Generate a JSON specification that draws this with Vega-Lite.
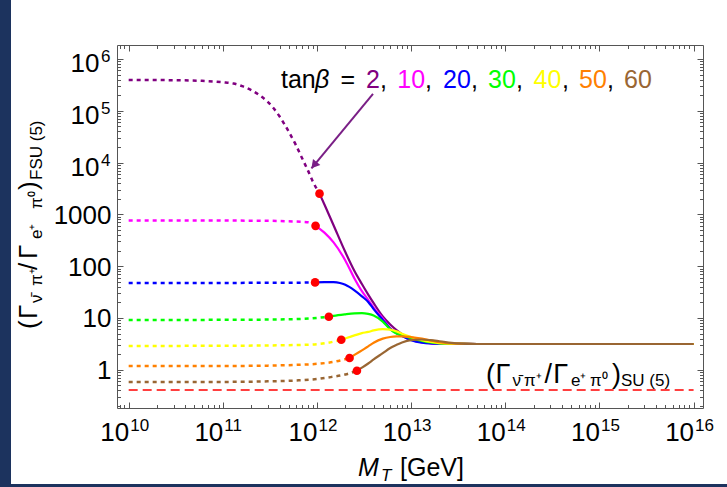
{
"$schema":"https://vega.github.io/schema/vega-lite/v6.json",
"width":586,"height":363,
"autosize":{"type":"none"},
"padding":{"left":117,"top":45,"right":24,"bottom":79},
"background":"white",
"config":{"view":{"stroke":"#555555","strokeWidth":1},"font":"Liberation Sans"},
"datasets":{
"decor":[{"M":4.298e8,"M2":5.625e8,"R":1.377e7,"R2":5.44e-3},{"M":4.298e8,"M2":2.265e16,"R":6.215e-3,"R2":5.44e-3}],
"su5":[{"M":1e10,"R":0.406},{"M":1e16,"R":0.406}],
"dotted":[
{"tb":"2","M":1e10,"R":3.94e5},{"tb":"2","M":3e10,"R":3.89e5},{"tb":"2","M":6e10,"R":3.78e5},{"tb":"2","M":1e11,"R":3.55e5},{"tb":"2","M":1.3e11,"R":3.35e5},{"tb":"2","M":1.6e11,"R":2.99e5},{"tb":"2","M":2e11,"R":2.51e5},{"tb":"2","M":2.5e11,"R":1.95e5},{"tb":"2","M":3e11,"R":1.49e5},{"tb":"2","M":4e11,"R":7.82e4},{"tb":"2","M":5e11,"R":3.98e4},{"tb":"2","M":6e11,"R":2.14e4},{"tb":"2","M":7e11,"R":1.18e4},{"tb":"2","M":8e11,"R":7.08e3},{"tb":"2","M":9e11,"R":4.37e3},{"tb":"2","M":1.064e12,"R":2512},
{"tb":"10","M":1e10,"R":760},{"tb":"10","M":1e11,"R":758},{"tb":"10","M":3e11,"R":752},{"tb":"10","M":5e11,"R":735},{"tb":"10","M":7e11,"R":716},{"tb":"10","M":8.5e11,"R":692},{"tb":"10","M":9.66e11,"R":600},
{"tb":"20","M":1e10,"R":47.5},{"tb":"20","M":1e11,"R":47.5},{"tb":"20","M":5e11,"R":47.8},{"tb":"20","M":9.55e11,"R":48.5},
{"tb":"30","M":1e10,"R":9.16},{"tb":"30","M":1e11,"R":9.18},{"tb":"30","M":3e11,"R":9.3},{"tb":"30","M":6e11,"R":9.5},{"tb":"30","M":1e12,"R":10.0},{"tb":"30","M":1.337e12,"R":10.54},
{"tb":"40","M":1e10,"R":2.88},{"tb":"40","M":1e11,"R":2.9},{"tb":"40","M":3e11,"R":2.94},{"tb":"40","M":6e11,"R":3.0},{"tb":"40","M":1e12,"R":3.12},{"tb":"40","M":1.26e12,"R":3.28},{"tb":"40","M":1.811e12,"R":3.793},
{"tb":"50","M":1e10,"R":1.175},{"tb":"50","M":1e11,"R":1.18},{"tb":"50","M":3e11,"R":1.2},{"tb":"50","M":6e11,"R":1.24},{"tb":"50","M":1e12,"R":1.3},{"tb":"50","M":1.4e12,"R":1.39},{"tb":"50","M":1.8e12,"R":1.52},{"tb":"50","M":2.218e12,"R":1.683},
{"tb":"60","M":1e10,"R":0.579},{"tb":"60","M":1e11,"R":0.582},{"tb":"60","M":3e11,"R":0.596},{"tb":"60","M":6e11,"R":0.62},{"tb":"60","M":1e12,"R":0.661},{"tb":"60","M":1.4e12,"R":0.72},{"tb":"60","M":2e12,"R":0.81},{"tb":"60","M":2.655e12,"R":0.957}
],
"solid":[
{"tb":"2","M":1.064e12,"R":2512},{"tb":"2","M":1.2e12,"R":1549},{"tb":"2","M":1.5e12,"R":617},{"tb":"2","M":2e12,"R":187.5},{"tb":"2","M":2.5e12,"R":80.4},{"tb":"2","M":3e12,"R":45.1},{"tb":"2","M":3.5e12,"R":28.2},{"tb":"2","M":4e12,"R":19.3},{"tb":"2","M":5e12,"R":10.7},{"tb":"2","M":6e12,"R":7.48},{"tb":"2","M":7e12,"R":5.82},{"tb":"2","M":8e12,"R":4.86},{"tb":"2","M":1e13,"R":3.98},{"tb":"2","M":1.3e13,"R":3.48},{"tb":"2","M":1.6e13,"R":3.27},{"tb":"2","M":2e13,"R":3.21},{"tb":"2","M":3e13,"R":3.155},{"tb":"2","M":5e13,"R":3.14},{"tb":"2","M":1e16,"R":3.14},
{"tb":"10","M":9.66e11,"R":600},{"tb":"10","M":1.2e12,"R":443},{"tb":"10","M":1.5e12,"R":287},{"tb":"10","M":2e12,"R":129},{"tb":"10","M":2.5e12,"R":57.8},{"tb":"10","M":3e12,"R":32.8},{"tb":"10","M":3.5e12,"R":22.4},{"tb":"10","M":4e12,"R":15.8},{"tb":"10","M":5e12,"R":9.77},{"tb":"10","M":6e12,"R":6.31},{"tb":"10","M":7e12,"R":5.13},{"tb":"10","M":8e12,"R":4.52},{"tb":"10","M":1e13,"R":3.78},{"tb":"10","M":1.3e13,"R":3.37},{"tb":"10","M":1.6e13,"R":3.24},{"tb":"10","M":2e13,"R":3.18},{"tb":"10","M":3e13,"R":3.15},{"tb":"10","M":5e13,"R":3.14},{"tb":"10","M":1e16,"R":3.14},
{"tb":"20","M":9.55e11,"R":48.5},{"tb":"20","M":1.2e12,"R":49.2},{"tb":"20","M":1.5e12,"R":49.0},{"tb":"20","M":1.75e12,"R":47.3},{"tb":"20","M":2e12,"R":43.6},{"tb":"20","M":2.5e12,"R":34.0},{"tb":"20","M":3e12,"R":26.1},{"tb":"20","M":3.5e12,"R":20.4},{"tb":"20","M":4e12,"R":14.8},{"tb":"20","M":5e12,"R":9.12},{"tb":"20","M":6e12,"R":6.17},{"tb":"20","M":7e12,"R":5.07},{"tb":"20","M":8e12,"R":4.47},{"tb":"20","M":1e13,"R":3.73},{"tb":"20","M":1.3e13,"R":3.34},{"tb":"20","M":1.6e13,"R":3.22},{"tb":"20","M":2e13,"R":3.18},{"tb":"20","M":3e13,"R":3.15},{"tb":"20","M":5e13,"R":3.14},{"tb":"20","M":1e16,"R":3.14},
{"tb":"30","M":1.337e12,"R":10.54},{"tb":"30","M":1.5e12,"R":10.96},{"tb":"30","M":2e12,"R":11.75},{"tb":"30","M":2.5e12,"R":12.25},{"tb":"30","M":3e12,"R":12.42},{"tb":"30","M":3.5e12,"R":12.0},{"tb":"30","M":4e12,"R":11.2},{"tb":"30","M":5e12,"R":8.51},{"tb":"30","M":6e12,"R":6.03},{"tb":"30","M":7e12,"R":5.01},{"tb":"30","M":8e12,"R":4.68},{"tb":"30","M":1e13,"R":4.07},{"tb":"30","M":1.3e13,"R":3.59},{"tb":"30","M":1.6e13,"R":3.35},{"tb":"30","M":2e13,"R":3.22},{"tb":"30","M":3e13,"R":3.155},{"tb":"30","M":5e13,"R":3.14},{"tb":"30","M":1e16,"R":3.14},
{"tb":"40","M":1.811e12,"R":3.793},{"tb":"40","M":2e12,"R":4.03},{"tb":"40","M":2.5e12,"R":4.6},{"tb":"40","M":3e12,"R":5.08},{"tb":"40","M":3.5e12,"R":5.37},{"tb":"40","M":4e12,"R":5.75},{"tb":"40","M":5e12,"R":6.1},{"tb":"40","M":6e12,"R":5.96},{"tb":"40","M":7e12,"R":5.5},{"tb":"40","M":8e12,"R":4.95},{"tb":"40","M":1e13,"R":4.27},{"tb":"40","M":1.3e13,"R":3.7},{"tb":"40","M":1.6e13,"R":3.43},{"tb":"40","M":2e13,"R":3.27},{"tb":"40","M":3e13,"R":3.16},{"tb":"40","M":5e13,"R":3.14},{"tb":"40","M":1e16,"R":3.14},
{"tb":"50","M":2.218e12,"R":1.683},{"tb":"50","M":2.5e12,"R":1.93},{"tb":"50","M":3e12,"R":2.37},{"tb":"50","M":3.5e12,"R":2.82},{"tb":"50","M":4e12,"R":3.31},{"tb":"50","M":5e12,"R":3.98},{"tb":"50","M":6e12,"R":4.29},{"tb":"50","M":7e12,"R":4.4},{"tb":"50","M":8e12,"R":4.42},{"tb":"50","M":1e13,"R":4.27},{"tb":"50","M":1.3e13,"R":3.98},{"tb":"50","M":1.6e13,"R":3.7},{"tb":"50","M":2e13,"R":3.39},{"tb":"50","M":3e13,"R":3.18},{"tb":"50","M":5e13,"R":3.14},{"tb":"50","M":1e16,"R":3.14},
{"tb":"60","M":2.655e12,"R":0.957},{"tb":"60","M":3e12,"R":1.096},{"tb":"60","M":3.5e12,"R":1.318},{"tb":"60","M":4e12,"R":1.585},{"tb":"60","M":5e12,"R":2.089},{"tb":"60","M":6e12,"R":2.63},{"tb":"60","M":7e12,"R":3.02},{"tb":"60","M":8e12,"R":3.35},{"tb":"60","M":1e13,"R":3.72},{"tb":"60","M":1.3e13,"R":3.83},{"tb":"60","M":1.6e13,"R":3.72},{"tb":"60","M":2e13,"R":3.55},{"tb":"60","M":3e13,"R":3.24},{"tb":"60","M":5e13,"R":3.14},{"tb":"60","M":1e16,"R":3.14}
],
"dots":[{"tb":"2","M":1.064e12,"R":2512},{"tb":"10","M":9.66e11,"R":600},{"tb":"20","M":9.55e11,"R":48.5},{"tb":"30","M":1.337e12,"R":10.54},{"tb":"40","M":1.811e12,"R":3.793},{"tb":"50","M":2.218e12,"R":1.683},{"tb":"60","M":2.655e12,"R":0.957}],
"arrow":[{"M":3.936e12,"R":2.11e5},{"M":8.745e11,"R":7.74e3}],
"arrowHead":[{"M":9.31e11,"R":8.9e3}],
"legNum":[{"t":"2","tb":"2","M":3.317e12,"R":2.79e5},{"t":"10","tb":"10","M":7.13e12,"R":2.79e5},{"t":"20","tb":"20","M":2.18e13,"R":2.79e5},{"t":"30","tb":"30","M":6.556e13,"R":2.79e5},{"t":"40","tb":"40","M":1.994e14,"R":2.79e5},{"t":"50","tb":"50","M":6.07e14,"R":2.79e5},{"t":"60","tb":"60","M":1.824e15,"R":2.79e5}],
"legBlack":[{"t":"tan","M":4.148e11,"R":2.79e5},{"t":"=","M":1.778e12,"R":2.79e5},{"t":",","M":4.67e12,"R":2.79e5},{"t":",","M":1.404e13,"R":2.79e5},{"t":",","M":4.325e13,"R":2.79e5},{"t":",","M":1.3e14,"R":2.79e5},{"t":",","M":4.004e14,"R":2.79e5},{"t":",","M":1.204e15,"R":2.79e5}],
"legBeta":[{"t":"β","M":9.53e11,"R":2.79e5}],
"yTitleBig":[{"t":"(","M":1.05e9,"R":6.11},{"t":"Γ","M":1.05e9,"R":9.54},{"t":"/","M":1.05e9,"R":84.2},{"t":"Γ","M":1.05e9,"R":137.3},{"t":")","M":1.05e9,"R":2953}],
"yTitleSmall":[{"t":"ν̄","M":1.19e9,"R":19.43},{"t":"π⁺","M":1.19e9,"R":41.4},{"t":"e⁺","M":1.19e9,"R":334.3},{"t":"π⁰","M":1.19e9,"R":1269},{"t":"FSU (5)","M":1.19e9,"R":4606}],
"suBig":[{"t":"(","M":6.243e13,"R":0.5615},{"t":"Γ","M":7.894e13,"R":0.5615},{"t":"/","M":2.617e14,"R":0.5615},{"t":"Γ","M":3.228e14,"R":0.5615},{"t":")","M":1.36e15,"R":0.5615}],
"suSmall":[{"t":"ν̄","M":1.196e14,"R":0.4959},{"t":"π⁺","M":1.581e14,"R":0.4959},{"t":"e⁺","M":4.991e14,"R":0.4959},{"t":"π⁰","M":7.94e14,"R":0.4959},{"t":"SU (5)","M":1.696e15,"R":0.4959}],
"xTitleM":[{"t":"M","M":2.728e12,"R":8.87e-3}],
"xTitleT":[{"t":"T","M":4.786e12,"R":7.1e-3}],
"xTitleGeV":[{"t":"[GeV]","M":7.62e12,"R":8.87e-3}]
},
"encoding":{
"x":{"field":"M","type":"quantitative","scale":{"type":"log","domain":[7.516e9,1.259e16],"nice":false},"axis":null},
"y":{"field":"R","type":"quantitative","scale":{"type":"log","domain":[0.1824,1.862e6],"nice":false},"axis":null}
},
"resolve":{"axis":{"x":"independent","y":"independent"}},
"layer":[
{"data":{"name":"decor"},"mark":{"type":"rect","color":"#1c335e"},"encoding":{"x2":{"field":"M2"},"y2":{"field":"R2"}}},
{"data":{"name":"su5"},"mark":{"type":"line","color":"#ff0000","strokeWidth":1.5,"strokeDash":[9,5]},
"encoding":{
"x":{"field":"M","type":"quantitative","scale":{"type":"log","domain":[7.516e9,1.259e16],"nice":false},"axis":{"orient":"top","values":[1e10,1e11,1e12,1e13,1e14,1e15,1e16],"labels":false,"tickSize":-6,"tickColor":"#555555","tickWidth":1,"domain":false,"grid":false,"title":null}},
"y":{"field":"R","type":"quantitative","scale":{"type":"log","domain":[0.1824,1.862e6],"nice":false},"axis":{"orient":"right","values":[1,10,100,1000,10000,100000,1000000],"labels":false,"tickSize":-6,"tickColor":"#555555","tickWidth":1,"domain":false,"grid":false,"title":null}}}},
{"data":{"name":"dotted"},"mark":{"type":"line","strokeWidth":2.5,"strokeDash":[4,4],"interpolate":"monotone"},
"encoding":{
"x":{"field":"M","type":"quantitative","scale":{"type":"log","domain":[7.516e9,1.259e16],"nice":false},"axis":{"orient":"bottom","values":[1e10,1e11,1e12,1e13,1e14,1e15,1e16],"labelExpr":"'10'","labelAlign":"right","labelOffset":0,"tickSize":-6,"tickColor":"#555555","tickWidth":1,"labelPadding":17,"labelFontSize":26,"labelFont":"Liberation Sans","labelColor":"#000000","labelFlush":false,"labelOverlap":false,"labelBound":false,"domain":false,"grid":false,"title":null}},
"y":{"field":"R","type":"quantitative","scale":{"type":"log","domain":[0.1824,1.862e6],"nice":false},"axis":{"orient":"left","values":[1,10,100,1000,10000,100000,1000000],"labelExpr":"datum.value < 5000 ? ['1','10','100','1000'][round(log(datum.value)/LN10)] : ''","labelOffset":1,"tickSize":-6,"tickColor":"#555555","tickWidth":1,"labelPadding":12,"labelFontSize":26,"labelFont":"Liberation Sans","labelColor":"#000000","labelFlush":false,"labelOverlap":false,"labelBound":false,"domain":false,"grid":false,"title":null}},
"color":{"field":"tb","type":"nominal","scale":{"domain":["2","10","20","30","40","50","60"],"range":["#800080","#ff00ff","#0000ff","#00ff00","#ffff00","#ff8000","#996633"]},"legend":null}}},
{"data":{"name":"solid"},"mark":{"type":"line","strokeWidth":2.2,"interpolate":"monotone"},
"encoding":{
"x":{"field":"M","type":"quantitative","scale":{"type":"log","domain":[7.516e9,1.259e16],"nice":false},"axis":{"orient":"bottom","values":[8e9,9e9,2e10,3e10,4e10,5e10,6e10,7e10,8e10,9e10,2e11,3e11,4e11,5e11,6e11,7e11,8e11,9e11,2e12,3e12,4e12,5e12,6e12,7e12,8e12,9e12,2e13,3e13,4e13,5e13,6e13,7e13,8e13,9e13,2e14,3e14,4e14,5e14,6e14,7e14,8e14,9e14,2e15,3e15,4e15,5e15,6e15,7e15,8e15,9e15],"labels":false,"tickSize":-3.5,"tickColor":"#555555","tickWidth":1,"domain":false,"grid":false,"title":null}},
"y":{"field":"R","type":"quantitative","scale":{"type":"log","domain":[0.1824,1.862e6],"nice":false},"axis":{"orient":"left","values":[0.2,0.3,0.4,0.5,0.6,0.7,0.8,0.9,2,3,4,5,6,7,8,9,20,30,40,50,60,70,80,90,200,300,400,500,600,700,800,900,2000,3000,4000,5000,6000,7000,8000,9000,20000,30000,40000,50000,60000,70000,80000,90000,200000,300000,400000,500000,600000,700000,800000,900000],"labels":false,"tickSize":-3.5,"tickColor":"#555555","tickWidth":1,"domain":false,"grid":false,"title":null}},
"color":{"field":"tb","type":"nominal","scale":{"domain":["2","10","20","30","40","50","60"],"range":["#800080","#ff00ff","#0000ff","#00ff00","#ffff00","#ff8000","#996633"]},"legend":null}}},
{"data":{"name":"arrow"},"mark":{"type":"line","color":"#7a1f86","strokeWidth":2},
"encoding":{
"x":{"field":"M","type":"quantitative","scale":{"type":"log","domain":[7.516e9,1.259e16],"nice":false},"axis":{"orient":"bottom","values":[1e10,1e11,1e12,1e13,1e14,1e15,1e16],"labelExpr":"['10','11','12','13','14','15','16'][round(log(datum.value)/LN10) - 10]","labelAlign":"left","labelOffset":1,"ticks":false,"tickSize":0,"labelPadding":9,"labelFontSize":17,"labelFont":"Liberation Sans","labelColor":"#000000","labelFlush":false,"labelOverlap":false,"labelBound":false,"domain":false,"grid":false,"title":null}},
"y":{"field":"R","type":"quantitative","scale":{"type":"log","domain":[0.1824,1.862e6],"nice":false},"axis":{"orient":"left","values":[10000,100000,1000000],"labelExpr":"'10'","labelOffset":5,"ticks":false,"tickSize":0,"labelPadding":18,"labelFontSize":26,"labelFont":"Liberation Sans","labelColor":"#000000","labelFlush":false,"labelOverlap":false,"labelBound":false,"domain":false,"grid":false,"title":null}}}},
{"data":{"name":"arrowHead"},"mark":{"type":"point","shape":"triangle-up","angle":219.6,"size":90,"filled":true,"opacity":1,"color":"#7a1f86"},
"encoding":{
"y":{"field":"R","type":"quantitative","scale":{"type":"log","domain":[0.1824,1.862e6],"nice":false},"axis":{"orient":"left","values":[10000,100000,1000000],"labelExpr":"['4','5','6'][round(log(datum.value)/LN10) - 4]","labelOffset":-2,"ticks":false,"tickSize":0,"labelPadding":7,"labelFontSize":17,"labelFont":"Liberation Sans","labelColor":"#000000","labelFlush":false,"labelOverlap":false,"labelBound":false,"domain":false,"grid":false,"title":null}}}},
{"data":{"name":"dots"},"mark":{"type":"point","filled":true,"opacity":1,"color":"#ff0000","size":75},
"encoding":{
"x":{"field":"M","type":"quantitative","scale":{"type":"log","domain":[7.516e9,1.259e16],"nice":false},"axis":{"orient":"top","values":[8e9,9e9,2e10,3e10,4e10,5e10,6e10,7e10,8e10,9e10,2e11,3e11,4e11,5e11,6e11,7e11,8e11,9e11,2e12,3e12,4e12,5e12,6e12,7e12,8e12,9e12,2e13,3e13,4e13,5e13,6e13,7e13,8e13,9e13,2e14,3e14,4e14,5e14,6e14,7e14,8e14,9e14,2e15,3e15,4e15,5e15,6e15,7e15,8e15,9e15],"labels":false,"tickSize":-3.5,"tickColor":"#555555","tickWidth":1,"domain":false,"grid":false,"title":null}},
"y":{"field":"R","type":"quantitative","scale":{"type":"log","domain":[0.1824,1.862e6],"nice":false},"axis":{"orient":"right","values":[0.2,0.3,0.4,0.5,0.6,0.7,0.8,0.9,2,3,4,5,6,7,8,9,20,30,40,50,60,70,80,90,200,300,400,500,600,700,800,900,2000,3000,4000,5000,6000,7000,8000,9000,20000,30000,40000,50000,60000,70000,80000,90000,200000,300000,400000,500000,600000,700000,800000,900000],"labels":false,"tickSize":-3.5,"tickColor":"#555555","tickWidth":1,"domain":false,"grid":false,"title":null}}}},
{"data":{"name":"legNum"},"mark":{"type":"text","align":"left","baseline":"alphabetic","fontSize":25,"font":"Liberation Sans"},
"encoding":{"text":{"field":"t"},"color":{"field":"tb","type":"nominal","scale":{"domain":["2","10","20","30","40","50","60"],"range":["#800080","#ff00ff","#0000ff","#00ff00","#ffff00","#ff8000","#996633"]},"legend":null}}},
{"data":{"name":"legBlack"},"mark":{"type":"text","align":"left","baseline":"alphabetic","fontSize":25,"font":"Liberation Sans","color":"#000000"},"encoding":{"text":{"field":"t"}}},
{"data":{"name":"legBeta"},"mark":{"type":"text","align":"left","baseline":"alphabetic","fontSize":25,"font":"Liberation Sans","fontStyle":"italic","color":"#000000"},"encoding":{"text":{"field":"t"}}},
{"data":{"name":"yTitleBig"},"mark":{"type":"text","angle":270,"align":"left","baseline":"alphabetic","fontSize":26,"font":"Liberation Sans","color":"#000000"},"encoding":{"text":{"field":"t"}}},
{"data":{"name":"yTitleSmall"},"mark":{"type":"text","angle":270,"align":"left","baseline":"alphabetic","fontSize":17,"font":"Liberation Sans","color":"#000000"},"encoding":{"text":{"field":"t"}}},
{"data":{"name":"suBig"},"mark":{"type":"text","align":"left","baseline":"alphabetic","fontSize":27,"font":"Liberation Sans","color":"#000000"},"encoding":{"text":{"field":"t"}}},
{"data":{"name":"suSmall"},"mark":{"type":"text","align":"left","baseline":"alphabetic","fontSize":17,"font":"Liberation Sans","color":"#000000"},"encoding":{"text":{"field":"t"}}},
{"data":{"name":"xTitleM"},"mark":{"type":"text","align":"left","baseline":"alphabetic","fontSize":25,"font":"Liberation Sans","fontStyle":"italic","color":"#000000"},"encoding":{"text":{"field":"t"}}},
{"data":{"name":"xTitleT"},"mark":{"type":"text","align":"left","baseline":"alphabetic","fontSize":17,"font":"Liberation Sans","fontStyle":"italic","color":"#000000"},"encoding":{"text":{"field":"t"}}},
{"data":{"name":"xTitleGeV"},"mark":{"type":"text","align":"left","baseline":"alphabetic","fontSize":25,"font":"Liberation Sans","color":"#000000"},"encoding":{"text":{"field":"t"}}}
]
}
